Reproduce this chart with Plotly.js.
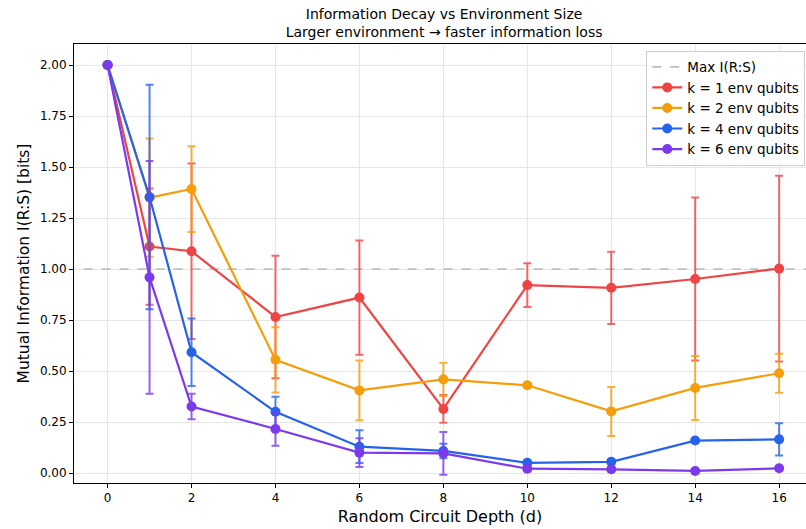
<!DOCTYPE html>
<html>
<head>
<meta charset="utf-8">
<script src="https://cdn.plot.ly/plotly-3.0.1.min.js"></script>
<style>html,body{margin:0;padding:0;background:#fff;}#chart{width:806px;height:529px;}</style>
</head>
<body>
<div id="chart"></div>
<script>
const depths = [0, 1, 2, 4, 6, 8, 10, 12, 14, 16];

const k1 = [2.00, 1.11, 1.087, 0.765, 0.86, 0.314, 0.921, 0.908, 0.951, 1.002];
const k1Err = [0, 0.285, 0.43, 0.30, 0.28, 0.068, 0.107, 0.177, 0.40, 0.455];

const k2 = [2.00, 1.35, 1.392, 0.555, 0.405, 0.459, 0.43, 0.302, 0.417, 0.489];
const k2Err = [0, 0.29, 0.21, 0.16, 0.147, 0.082, 0.01, 0.12, 0.157, 0.095];

const k4 = [2.00, 1.353, 0.592, 0.30, 0.129, 0.108, 0.05, 0.055, 0.159, 0.165];
const k4Err = [0, 0.55, 0.165, 0.074, 0.08, 0.036, 0.01, 0.01, 0.01, 0.079];

const k6 = [2.00, 0.959, 0.326, 0.216, 0.10, 0.096, 0.021, 0.018, 0.01, 0.023];
const k6Err = [0, 0.57, 0.063, 0.083, 0.07, 0.105, 0.01, 0.01, 0.01, 0.01];

const maxX = [-1, 17];
const maxY = [1.0, 1.0];

const seriesNames = ["k = 1 env qubits", "k = 2 env qubits", "k = 4 env qubits", "k = 6 env qubits"];
const seriesColors = ["#ef4444", "#f59e0b", "#2563eb", "#7c3aed"];
const errColors = ["rgba(239,68,68,0.8)", "rgba(245,158,11,0.8)", "rgba(37,99,235,0.8)", "rgba(124,58,237,0.8)"];
const seriesY = [k1, k2, k4, k6];
const seriesErr = [k1Err, k2Err, k4Err, k6Err];

const traces = [{
  x: maxX, y: maxY, mode: "lines", name: "Max I(R:S)",
  line: {color: "rgba(160,160,160,0.7)", width: 1.6, dash: "dash"},
  hoverinfo: "skip"
}];
for (let i = 0; i < 4; i++) {
  traces.push({
    x: depths, y: seriesY[i], mode: "lines+markers", name: seriesNames[i],
    line: {color: seriesColors[i], width: 2.2},
    marker: {color: seriesColors[i], size: 10},
    error_y: {type: "data", array: seriesErr[i], visible: true, color: errColors[i], thickness: 2, width: 4}
  });
}

const font = "DejaVu Sans, sans-serif";
const layout = {
  width: 806, height: 529,
  margin: {l: 74, r: 0, t: 44, b: 46},
  paper_bgcolor: "#fff", plot_bgcolor: "#fff",
  font: {family: font, color: "#000", size: 12},
  title: {
    text: "Information Decay vs Environment Size<br>Larger environment → faster information loss",
    font: {family: font, size: 14, color: "#000"},
    x: 0.551, xanchor: "center", y: 0.964, yanchor: "top"
  },
  xaxis: {
    range: [-0.8, 16.64],
    tickvals: [0, 2, 4, 6, 8, 10, 12, 14, 16],
    ticks: "outside", ticklen: 4, tickcolor: "#000",
    showline: true, linecolor: "#000", linewidth: 1, mirror: true,
    showgrid: true, gridcolor: "#e6e6e6", gridwidth: 1, zeroline: false,
    tickfont: {size: 12},
    title: {text: "Random Circuit Depth (d)", font: {size: 16}, standoff: 6}
  },
  yaxis: {
    range: [-0.049, 2.103],
    tickvals: [0, 0.25, 0.5, 0.75, 1.0, 1.25, 1.5, 1.75, 2.0],
    tickformat: ".2f",
    ticks: "outside", ticklen: 4, tickcolor: "#000",
    showline: true, linecolor: "#000", linewidth: 1, mirror: true,
    showgrid: true, gridcolor: "#e6e6e6", gridwidth: 1, zeroline: false,
    tickfont: {size: 12},
    title: {text: "Mutual Information I(R:S) [bits]", font: {size: 15.5}, standoff: 6}
  },
  showlegend: true,
  legend: {
    x: 0.999, xanchor: "right", y: 0.985, yanchor: "top",
    bgcolor: "rgba(255,255,255,0.85)", bordercolor: "#cccccc", borderwidth: 1,
    font: {size: 13.5}, tracegroupgap: 0
  }
};

Plotly.newPlot("chart", traces, layout, {displayModeBar: false, staticPlot: true});
</script>
</body>
</html>
